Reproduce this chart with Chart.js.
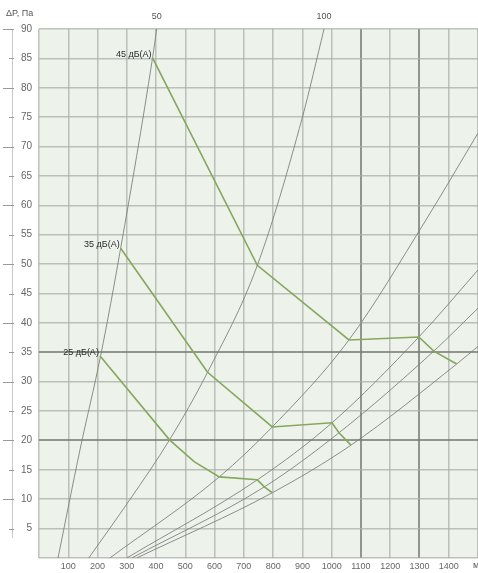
<!DOCTYPE html>
<html>
<head>
<meta charset="utf-8">
<script src="https://cdn.jsdelivr.net/npm/chart.js@4.4.1/dist/chart.umd.min.js"></script>
<style>
  html, body { margin: 0; padding: 0; background: #ffffff; }
  canvas { display: block; }
</style>
</head>
<body>
<canvas id="chart" width="478" height="573"></canvas>
<script>
// Airflow, m³/h, and pressure drop, Pa
const flowMin = 0;
const flowMax = 1500;
const pressureMin = 0;
const pressureMax = 90;

// Noise-level lines (flow / pressure pairs)
const noise45Flow = [388, 746, 1059, 1298, 1349, 1427];
const noise45Pressure = [85.1, 49.8, 37.1, 37.6, 35.2, 33.0];
const noise35Flow = [279, 576, 797, 1001, 1025, 1066];
const noise35Pressure = [52.7, 31.6, 22.3, 23.0, 21.3, 19.2];
const noise25Flow = [208, 446, 530, 616, 746, 770, 797];
const noise25Pressure = [34.4, 20.1, 16.4, 13.8, 13.3, 12.1, 11.1];
const noiseLabels = ['45 дБ(А)', '35 дБ(А)', '25 дБ(А)'];

// Characteristic curves
const curveAFlow = [65, 140, 211, 279, 388, 402];
const curveAPressure = [0, 18.4, 34.5, 52.7, 85.1, 90];
const curveBFlow = [170, 310, 446, 576, 746, 899, 974];
const curveBPressure = [0, 9.9, 20.1, 31.6, 49.8, 74.8, 90];
const curveCFlow = [242, 616, 797, 1059, 1322, 1500];
const curveCPressure = [0, 13.8, 22.3, 37.1, 57.5, 72.3];
const curveDFlow = [300, 746, 1001, 1298, 1500];
const curveDPressure = [0, 13.3, 23.0, 37.6, 49.0];
const curveEFlow = [317, 770, 1025, 1349, 1500];
const curveEPressure = [0, 12.1, 21.3, 35.2, 42.5];
const curveFFlow = [334, 797, 1066, 1427, 1500];
const curveFPressure = [0, 11.1, 19.2, 33.0, 36.0];

// Labels along the top edge, placed where curves A and B leave the grid
const topLabelFlows = [402, 974];
const topLabels = ['50', '100'];

// Heavier grid lines
const strongPressureLines = [20, 35];
const strongFlowLines = [1100, 1300];

const unitX = 'м³/ч';
const unitY = 'ΔP, Па';

const FONT = 'Liberation Sans, Arial, sans-serif';
const GREEN = '#86a75c';
const CURVE = 'rgba(120,124,120,0.85)';

function pts(xs, ys) { return xs.map((x, i) => ({ x: x, y: ys[i] })); }

function curveSet(xs, ys) {
  return {
    data: pts(xs, ys), borderColor: CURVE, borderWidth: 1,
    pointRadius: 0, cubicInterpolationMode: 'monotone', fill: false, order: 2
  };
}
function noiseSet(xs, ys, label) {
  return {
    label: label, data: pts(xs, ys), borderColor: GREEN, borderWidth: 1.6,
    pointRadius: 0, tension: 0, fill: false, order: 1, isNoise: true
  };
}

// the grid runs right up to the canvas edge, so drop the label overhang padding
function noSidePadding(s) { s.paddingLeft = 0; s.paddingRight = 0; }

const areaBackground = {
  id: 'areaBackground',
  beforeDraw(chart) {
    const a = chart.chartArea, c = chart.ctx;
    c.save();
    c.fillStyle = 'rgb(237,242,235)';
    c.fillRect(a.left, a.top, a.right - a.left, a.bottom - a.top);
    c.restore();
  }
};

const decorations = {
  id: 'decorations',
  afterDraw(chart) {
    const c = chart.ctx, y = chart.scales.y, x = chart.scales.x;
    c.save();
    // left axis rule with dashes
    c.strokeStyle = '#c8c8c8';
    c.lineWidth = 1;
    c.beginPath();
    c.moveTo(12.5, y.getPixelForValue(pressureMax));
    c.lineTo(12.5, y.getPixelForValue(pressureMin) - 20);
    c.stroke();
    c.strokeStyle = '#9a9a9a';
    y.ticks.forEach(t => {
      if (t.value === 0) return;
      const py = Math.round(y.getPixelForValue(t.value)) + 0.5;
      const long = t.value % 10 === 0;
      c.beginPath();
      c.moveTo(long ? 3 : 9, py);
      c.lineTo(14, py);
      c.stroke();
    });
    // axis units
    c.fillStyle = '#555';
    c.font = '9px ' + FONT;
    c.textBaseline = 'middle';
    c.textAlign = 'left';
    c.fillText(unitY, 6, 14);
    c.fillText(unitX, x.getPixelForValue(flowMax) - 5, 566);
    // noise-level captions at the start of each line
    c.fillStyle = '#2a2a2a';
    c.font = '9px ' + FONT;
    c.textAlign = 'right';
    c.textBaseline = 'bottom';
    chart.data.datasets.forEach((ds, i) => {
      if (!ds.isNoise) return;
      const p = chart.getDatasetMeta(i).data[0];
      c.fillText(ds.label, p.x - 1, p.y + 1);
    });
    c.restore();
  }
};

new Chart(document.getElementById('chart'), {
  type: 'line',
  data: {
    datasets: [
      noiseSet(noise45Flow, noise45Pressure, noiseLabels[0]),
      noiseSet(noise35Flow, noise35Pressure, noiseLabels[1]),
      noiseSet(noise25Flow, noise25Pressure, noiseLabels[2]),
      curveSet(curveAFlow, curveAPressure),
      curveSet(curveBFlow, curveBPressure),
      curveSet(curveCFlow, curveCPressure),
      curveSet(curveDFlow, curveDPressure),
      curveSet(curveEFlow, curveEPressure),
      curveSet(curveFFlow, curveFPressure)
    ]
  },
  options: {
    responsive: false,
    animation: false,
    events: [],
    layout: { padding: 0 },
    plugins: { legend: { display: false }, tooltip: { enabled: false }, title: { display: false } },
    scales: {
      x: {
        type: 'linear', position: 'bottom', min: flowMin, max: flowMax,
        afterFit(s) { s.height = 15; noSidePadding(s); },
        border: { display: false },
        grid: {
          drawTicks: false,
          color: ctx => strongFlowLines.includes(ctx.tick.value) ? 'rgba(120,126,118,0.8)' : 'rgba(170,176,168,0.75)',
          lineWidth: ctx => strongFlowLines.includes(ctx.tick.value) ? 2 : 1.5
        },
        ticks: {
          stepSize: 100, autoSkip: false, maxRotation: 0, padding: 3,
          color: '#666', font: { family: FONT, size: 9 },
          callback: v => (v === flowMin || v === flowMax) ? '' : String(v)
        }
      },
      xTop: {
        type: 'linear', position: 'top', min: flowMin, max: flowMax,
        afterFit(s) { s.height = 29; noSidePadding(s); },
        afterBuildTicks(s) { s.ticks = topLabelFlows.map(v => ({ value: v })); },
        border: { display: false },
        grid: { display: false, drawTicks: false },
        ticks: {
          autoSkip: false, maxRotation: 0, padding: 7,
          color: '#555', font: { family: FONT, size: 9 },
          callback: (v, i) => topLabels[i]
        }
      },
      y: {
        type: 'linear', position: 'left', min: pressureMin, max: pressureMax,
        afterFit(s) { s.width = 39; s.paddingTop = 0; s.paddingBottom = 0; },
        border: { display: false },
        grid: {
          drawTicks: false,
          color: ctx => strongPressureLines.includes(ctx.tick.value) ? 'rgba(120,126,118,0.8)' : 'rgba(170,176,168,0.75)',
          lineWidth: ctx => strongPressureLines.includes(ctx.tick.value) ? 2 : 1.5
        },
        ticks: {
          stepSize: 5, autoSkip: false, padding: 7,
          color: '#666', font: { family: FONT, size: 10 },
          callback: v => v === 0 ? '' : String(v)
        }
      }
    }
  },
  plugins: [areaBackground, decorations]
});
</script>
</body>
</html>
